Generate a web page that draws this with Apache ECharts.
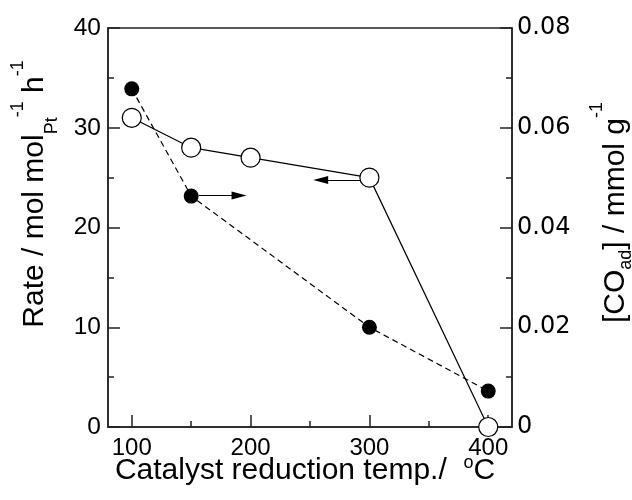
<!DOCTYPE html>
<html><head><meta charset="utf-8">
<script src="https://cdn.jsdelivr.net/npm/echarts@6/dist/echarts.min.js"></script>
<style>html,body{margin:0;padding:0;background:#fff}#c{width:632px;height:500px}</style>
</head><body><div id="c"></div>
<script>
// ---- data ----
const rateTemps = [100, 150, 200, 300, 400];
const rateValues = [31, 28, 27, 25, 0];
const coTemps = [100, 150, 300, 400];
const coValues = [0.0678, 0.0463, 0.0200, 0.0072];
const xTickValues = [100, 200, 300, 400];
const xMinorTickValues = [150, 250, 350];
// arrow annotations (data units): [start, end]
const arrowToRight = [[156.4, 0.0464], [190.3, 0.0464]];
const arrowToLeft = [[292.2, 24.77], [259.0, 24.77]];

const FONT = '"Liberation Sans", Arial, Helvetica, sans-serif';
const RFONT = '"DejaVu Sans", Verdana, sans-serif';
const AX = {color: '#222', width: 1.5};

const chart = echarts.init(document.getElementById('c'), null, {renderer: 'canvas'});

function yAxisCommon(extra) {
  return Object.assign({
    type: 'value',
    axisLine: {show: true, lineStyle: AX},
    axisTick: {show: true, inside: true, length: 12, lineStyle: AX},
    minorTick: {show: true, splitNumber: 2, length: 6, lineStyle: AX},
    splitLine: {show: false},
    minorSplitLine: {show: false}
  }, extra);
}

const titleRich = {
  m: {fontSize: 30, fontFamily: FONT, fill: '#000'},
  sub: {fontSize: 18, fontFamily: FONT, fill: '#000', padding: [34, 0, 0, 0]},
  sup: {fontSize: 18, fontFamily: FONT, fill: '#000', padding: [0, 0, 34, 0]}
};

const option = {
  animation: false,
  backgroundColor: '#fff',
  grid: {left: 108, top: 28, right: 120, bottom: 73, show: true, borderColor: '#222', borderWidth: 1.5, backgroundColor: 'transparent', containLabel: false},
  xAxis: [
    {
      type: 'value', min: 80, max: 420,
      axisLine: {show: true, onZero: false, lineStyle: AX},
      axisTick: {show: true, inside: true, length: 12, customValues: xTickValues, lineStyle: AX},
      axisLabel: {customValues: xTickValues, fontSize: 24, color: '#000', fontFamily: FONT, margin: 9},
      splitLine: {show: false}
    },
    {
      type: 'value', min: 80, max: 420, position: 'bottom',
      axisLine: {show: false, onZero: false},
      axisTick: {show: true, inside: true, length: 6, customValues: xMinorTickValues, lineStyle: AX},
      axisLabel: {show: false},
      splitLine: {show: false}
    }
  ],
  yAxis: [
    yAxisCommon({min: 0, max: 40, interval: 10, position: 'left',
      axisLabel: {fontSize: 24.5, color: '#000', fontFamily: FONT, margin: 7}}),
    yAxisCommon({min: 0, max: 0.08, interval: 0.02, position: 'right',
      axisLabel: {fontSize: 24, color: '#000', fontFamily: RFONT, margin: 5}})
  ],
  graphic: [
    {
      type: 'text', x: 34.6, y: 194, rotation: Math.PI / 2,
      style: {
        text: '{m|Rate / mol mol}{sub|Pt}{sup|-1}{m| h}{sup|-1}',
        align: 'center', verticalAlign: 'middle', textAlign: 'center', textVerticalAlign: 'middle',
        fill: '#000', rich: titleRich
      }
    },
    {
      type: 'text', x: 615.5, y: 212.5, rotation: Math.PI / 2,
      style: {
        text: '{m|[CO}{sub|ad}{m|] / mmol g}{sup|-1}',
        align: 'center', verticalAlign: 'middle', textAlign: 'center', textVerticalAlign: 'middle',
        fill: '#000',
        rich: {
          m: titleRich.m,
          sub: {fontSize: 18, fontFamily: FONT, fill: '#000', padding: [22, 0, 0, 0]},
          sup: {fontSize: 18, fontFamily: FONT, fill: '#000', padding: [0, 0, 36, 0]}
        }
      }
    },
    {
      type: 'text', x: 305, y: 471,
      style: {
        text: '{m|Catalyst reduction temp./  }{sup|o}{m|C}',
        align: 'center', verticalAlign: 'middle', textAlign: 'center', textVerticalAlign: 'middle',
        fill: '#000',
        rich: {
          m: titleRich.m,
          sup: {fontSize: 18, fontFamily: FONT, fill: '#000', padding: [0, 0, 15, 0]}
        }
      }
    }
  ],
  series: [
    {
      type: 'line', name: 'CO', xAxisIndex: 0, yAxisIndex: 1, z: 2, clip: false,
      data: coTemps.map((t, i) => [t, coValues[i]]),
      symbol: 'circle', symbolSize: 15,
      itemStyle: {color: '#000', borderColor: '#000', borderWidth: 0},
      lineStyle: {color: '#000', width: 1.2, type: [6, 4]},
      emphasis: {disabled: true},
      markLine: {
        silent: true, symbol: ['none', 'triangle'], symbolSize: [8, 15], precision: 6,
        itemStyle: {color: '#000'},
        lineStyle: {color: '#000', width: 1.2, type: 'solid'},
        label: {show: false}, emphasis: {disabled: true},
        data: [[{coord: arrowToRight[0]}, {coord: arrowToRight[1]}]]
      }
    },
    {
      type: 'line', name: 'Rate', xAxisIndex: 0, yAxisIndex: 0, z: 3, clip: false,
      data: rateTemps.map((t, i) => [t, rateValues[i]]),
      symbol: 'circle', symbolSize: 19,
      itemStyle: {color: '#fff', borderColor: '#000', borderWidth: 1.2},
      lineStyle: {color: '#000', width: 1.2},
      emphasis: {disabled: true},
      markLine: {
        silent: true, symbol: ['none', 'triangle'], symbolSize: [8, 15], precision: 6,
        itemStyle: {color: '#000'},
        lineStyle: {color: '#000', width: 1.2, type: 'solid'},
        label: {show: false}, emphasis: {disabled: true},
        data: [[{coord: arrowToLeft[0]}, {coord: arrowToLeft[1]}]]
      }
    }
  ]
};
chart.setOption(option);
</script>
</body></html>
